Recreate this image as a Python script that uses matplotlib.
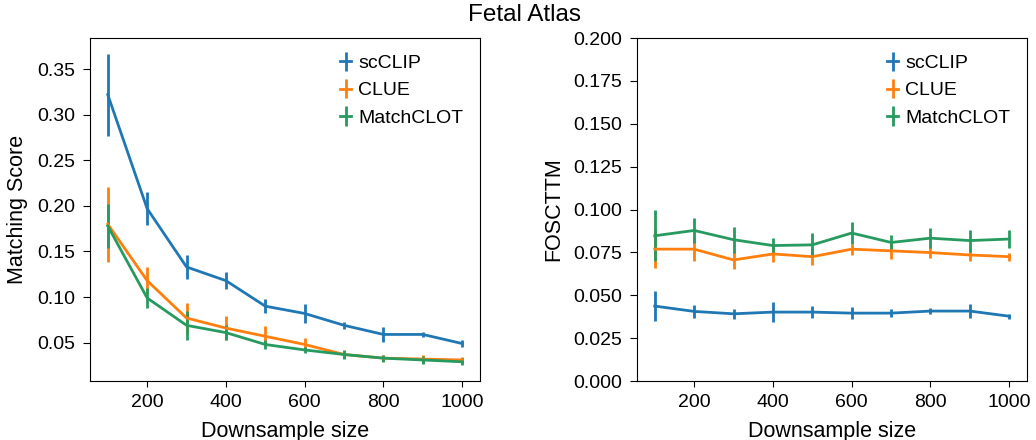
import matplotlib
matplotlib.use('Agg')
import matplotlib.pyplot as plt

plt.rcParams['font.family'] = ['Liberation Sans', 'DejaVu Sans']
plt.rcParams['xtick.labelsize'] = 14
plt.rcParams['ytick.labelsize'] = 14
plt.rcParams['axes.labelsize'] = 15.5
plt.rcParams['legend.fontsize'] = 14
plt.rcParams['xtick.major.size'] = 4.5
plt.rcParams['ytick.major.size'] = 5
plt.rcParams['xtick.major.pad'] = 5
plt.rcParams['ytick.major.pad'] = 5.5

sizes = [100, 200, 300, 400, 500, 600, 700, 800, 900, 1000]
methods = ['scCLIP', 'CLUE', 'MatchCLOT']
colors = ['#1f77b4', '#ff7f0e', '#279a5f']

# Matching score (mean, error)
ms_scclip = [0.322, 0.197, 0.133, 0.118, 0.090, 0.082, 0.069, 0.059, 0.059, 0.049]
ms_scclip_err = [0.045, 0.018, 0.013, 0.009, 0.008, 0.010, 0.004, 0.008, 0.003, 0.004]
ms_clue = [0.180, 0.118, 0.077, 0.066, 0.057, 0.048, 0.037, 0.033, 0.032, 0.031]
ms_clue_err = [0.041, 0.015, 0.016, 0.013, 0.011, 0.007, 0.004, 0.003, 0.004, 0.003]
ms_matchclot = [0.178, 0.099, 0.069, 0.061, 0.048, 0.042, 0.037, 0.033, 0.031, 0.029]
ms_matchclot_err = [0.024, 0.011, 0.016, 0.008, 0.005, 0.003, 0.005, 0.004, 0.004, 0.004]

# FOSCTTM (mean, error)
fo_scclip = [0.0437, 0.0406, 0.0392, 0.0402, 0.0402, 0.0396, 0.0396, 0.0408, 0.0408, 0.0378]
fo_scclip_err = [0.0088, 0.0040, 0.0030, 0.0056, 0.0034, 0.0035, 0.0024, 0.0020, 0.0040, 0.0015]
fo_clue = [0.0769, 0.0769, 0.0706, 0.0741, 0.0725, 0.0769, 0.0759, 0.0749, 0.0735, 0.0725]
fo_clue_err = [0.0110, 0.0069, 0.0055, 0.0049, 0.0049, 0.0032, 0.0046, 0.0034, 0.0034, 0.0024]
fo_matchclot = [0.0847, 0.0878, 0.0824, 0.0790, 0.0794, 0.0863, 0.0808, 0.0833, 0.0819, 0.0828]
fo_matchclot_err = [0.0150, 0.0074, 0.0076, 0.0042, 0.0067, 0.0065, 0.0041, 0.0059, 0.0064, 0.0054]

ms = [(ms_scclip, ms_scclip_err), (ms_clue, ms_clue_err), (ms_matchclot, ms_matchclot_err)]
fo = [(fo_scclip, fo_scclip_err), (fo_clue, fo_clue_err), (fo_matchclot, fo_matchclot_err)]

fig = plt.figure(figsize=(10.36, 4.4), dpi=100)
ax1 = fig.add_axes([0.0869, 0.134, 0.3764, 0.7796])
ax2 = fig.add_axes([0.6149, 0.134, 0.3764, 0.7796])

for ax, data in [(ax1, ms), (ax2, fo)]:
    for name, c, (m, e) in zip(methods, colors, data):
        ax.errorbar(sizes, m, yerr=e, color=c, lw=2, elinewidth=2, capsize=0, label=name)
    ax.set_xlabel('Downsample size', labelpad=7)
    ax.set_xticks([200, 400, 600, 800, 1000])
    ax.legend(frameon=False, loc='upper right', handlelength=0.57, handletextpad=0.36,
              borderaxespad=0.45, labelspacing=0.5)

ax1.set_ylabel('Matching Score', labelpad=7)
ax2.set_ylabel('FOSCTTM', labelpad=7)
ax2.set_ylim(0, 0.2)
ax2.set_yticks([0, 0.025, 0.05, 0.075, 0.1, 0.125, 0.15, 0.175, 0.2])
ax1.set_yticks([0.05, 0.1, 0.15, 0.2, 0.25, 0.3, 0.35])

fig.suptitle('Fetal Atlas', fontsize=17.5, x=0.506, y=0.992)
fig.savefig('out.png', dpi=100)
